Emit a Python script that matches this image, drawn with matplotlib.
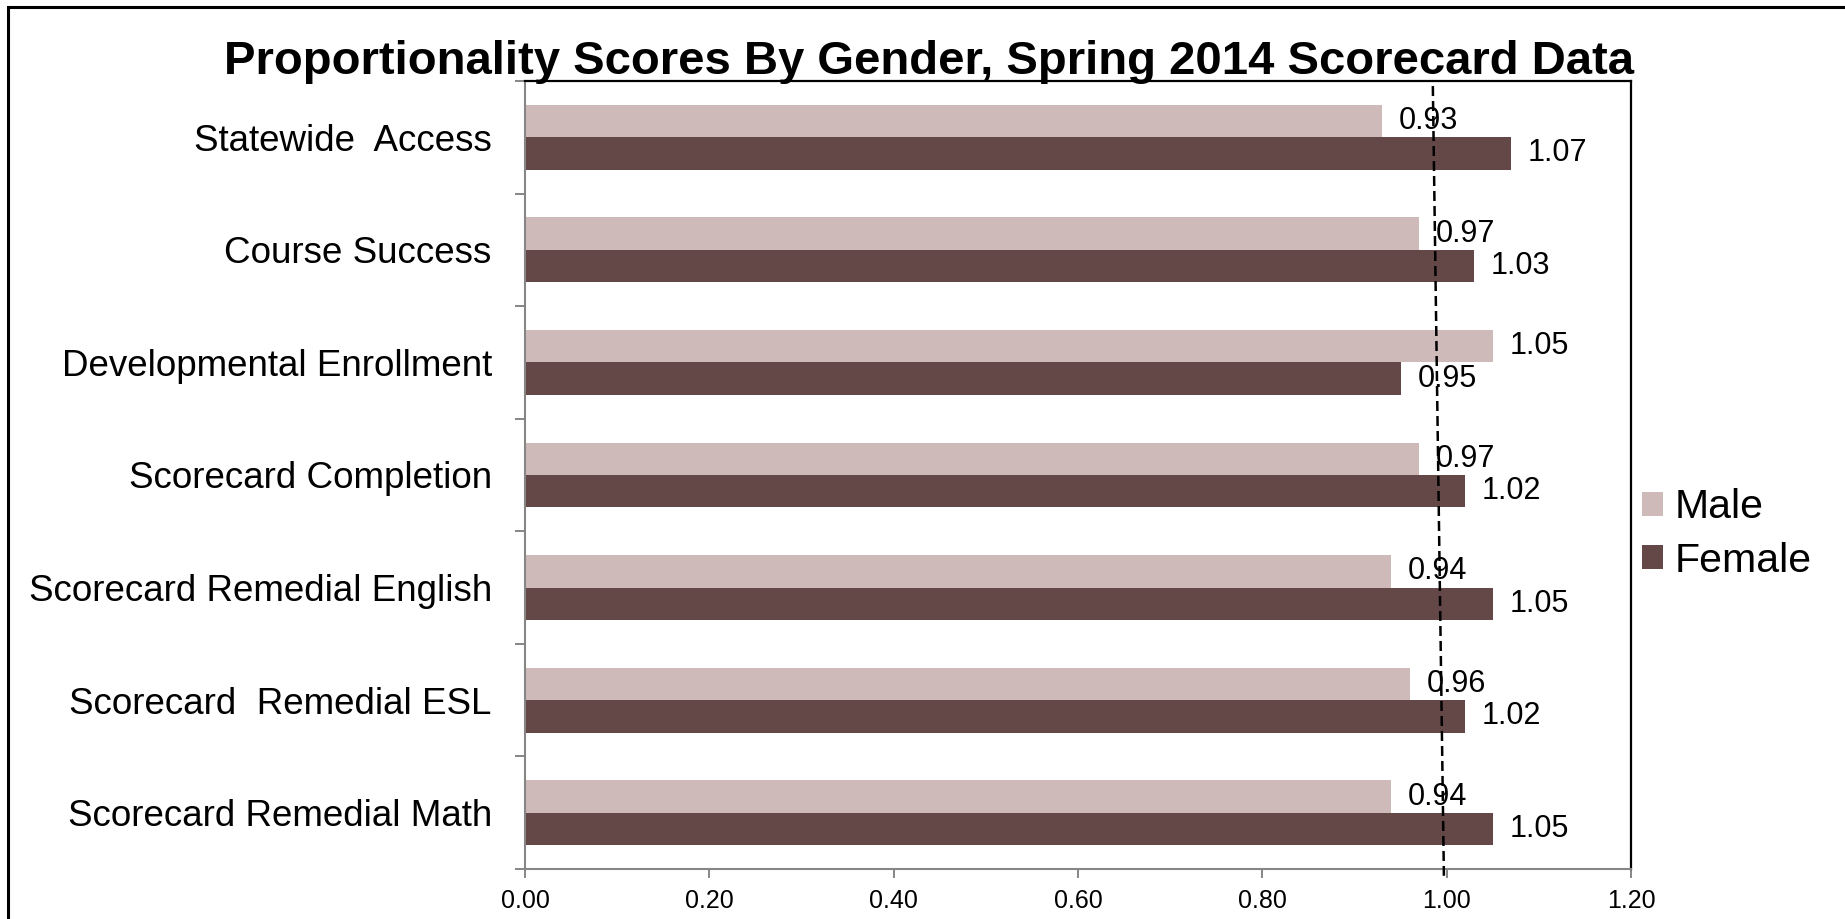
import numpy
import matplotlib
matplotlib.use('Agg')
import matplotlib.pyplot as plt
from matplotlib.patches import Rectangle
from matplotlib.ticker import MultipleLocator, FormatStrFormatter

plt.rcParams['font.family'] = ['Liberation Sans', 'DejaVu Sans']

categories = ['Statewide  Access', 'Course Success', 'Developmental Enrollment',
              'Scorecard Completion', 'Scorecard Remedial English',
              'Scorecard  Remedial ESL', 'Scorecard Remedial Math']
male = [0.93, 0.97, 1.05, 0.97, 0.94, 0.96, 0.94]
female = [1.07, 1.03, 0.95, 1.02, 1.05, 1.02, 1.05]
# hand-drawn parity line, slightly tilted in the original
parity_top = 0.985
parity_bottom = 0.997

male_color = '#CFBABA'
female_color = '#644747'
axis_gray = '#868686'


def plot_proportionality():
    fig = plt.figure(figsize=(18.45, 9.19), dpi=100)
    ax = fig.add_axes([0.2846, 0.0544, 0.8840 - 0.2846, 0.9119 - 0.0544])

    y = numpy.arange(len(categories))
    height = 0.288
    male_bars = ax.barh(y - height / 2, male, height=height, color=male_color, label='Male')
    female_bars = ax.barh(y + height / 2, female, height=height, color=female_color, label='Female')

    for bars, values in [(male_bars, male), (female_bars, female)]:
        for bar, value in zip(bars, values):
            ax.annotate('%.2f' % value, xy=(value, bar.get_y() + bar.get_height() / 2),
                        xytext=(12, 0), textcoords='offset points',
                        va='center', ha='left', fontsize=22)

    ax.set_xlim(0, 1.2)
    ax.set_ylim(len(categories) - 0.5, -0.5)
    ax.xaxis.set_major_locator(MultipleLocator(0.2))
    ax.xaxis.set_major_formatter(FormatStrFormatter('%.2f'))
    ax.tick_params(axis='x', direction='out', length=6.5, width=1.4, color=axis_gray,
                   labelsize=18, pad=8)

    ax.set_yticks(y)
    ax.set_yticklabels(categories, fontsize=26.5)
    ax.set_yticks(numpy.arange(len(categories) + 1) - 0.5, minor=True)
    ax.tick_params(axis='y', which='major', length=0, pad=24)
    ax.tick_params(axis='y', which='minor', direction='out', length=7.2, width=1.4, color=axis_gray)

    for side in ['left', 'bottom']:
        ax.spines[side].set_color(axis_gray)
        ax.spines[side].set_linewidth(1.5)
    for side in ['top', 'right']:
        ax.spines[side].set_color('black')
        ax.spines[side].set_linewidth(1.6)

    ax.plot([parity_top, parity_bottom], [-0.455, len(categories) - 0.44],
            color='black', linewidth=1.8, dashes=(4, 2), clip_on=False, zorder=5)

    fig.text(0.5035, 1 - 74 / 919, 'Proportionality Scores By Gender, Spring 2014 Scorecard Data',
             ha='center', va='baseline', fontsize=34, fontweight='bold')

    fig.legend(handles=[male_bars, female_bars], labels=['Male', 'Female'],
               loc='center left', bbox_to_anchor=(1642 / 1845, 0.419),
               frameon=False, fontsize=29.5, handlelength=0.52, handleheight=0.52,
               handletextpad=0.27, labelspacing=0.38, borderpad=0, borderaxespad=0)

    fig.patches.append(Rectangle((8 / 1845, -0.1), 1.2, 1 - 7 / 919 + 0.1,
                                 transform=fig.transFigure, fill=False,
                                 edgecolor='black', linewidth=2.2))

    plt.savefig('out.png', dpi=100)


plot_proportionality()
